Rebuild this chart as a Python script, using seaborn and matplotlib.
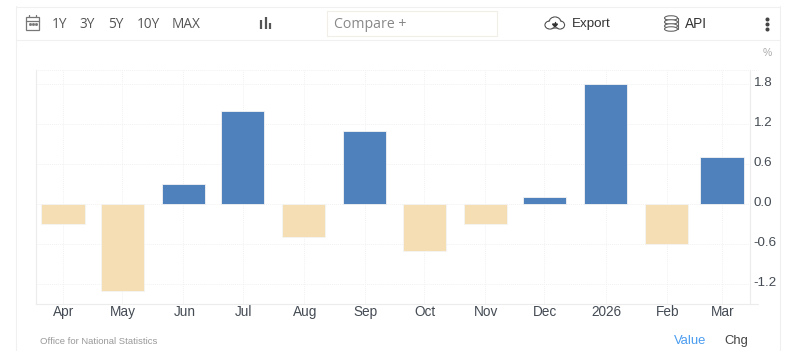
#!/usr/bin/env python3

import matplotlib

matplotlib.use("Agg")
import matplotlib.pyplot as plt
import matplotlib.transforms as mtrans
from matplotlib.patches import Ellipse, Polygon, Rectangle
import pandas
import seaborn as sns

months = ["2025-04-01", "2025-05-01", "2025-06-01", "2025-07-01", "2025-08-01", "2025-09-01",
          "2025-10-01", "2025-11-01", "2025-12-01", "2026-01-01", "2026-02-01", "2026-03-01"]
month_labels = ["Apr", "May", "Jun", "Jul", "Aug", "Sep", "Oct", "Nov", "Dec", "2026", "Feb", "Mar"]
values = [-0.3, -1.3, 0.3, 1.4, -0.5, 1.1, -0.7, -0.3, 0.1, 1.8, -0.6, 0.7]
y_ticks = [-1.2, -0.6, 0.0, 0.6, 1.2, 1.8]
y_labels = ["-1.2", "-0.6", "0.0", "0.6", "1.2", "1.8"]
range_buttons = ["1Y", "3Y", "5Y", "10Y", "MAX"]

W, H = 790, 351
BLUE = "#4f81bd"
TAN = "#f5deb3"
GRID = "#f2f2f2"
EDGE = "#ececec"
TEXT = "#444b54"
ARIAL = "Liberation Sans"
OPEN = "Open Sans"


def make_frame():
    dates = pandas.to_datetime(months)
    df = pandas.DataFrame({"value": values, "label": month_labels})
    df["day"] = (dates - dates[0]).days
    df["sign"] = ["up" if v >= 0 else "down" for v in values]
    return df


def plot_bars(fig, df):
    ax = fig.add_axes([36 / W, (H - 304) / H, (750 - 36) / W, (304 - 70) / H])
    sns.barplot(
        data=df,
        x="day",
        y="value",
        hue="sign",
        palette={"up": BLUE, "down": TAN},
        native_scale=True,
        dodge=False,
        width=0.78,
        saturation=1,
        legend=False,
        ax=ax,
        zorder=3,
        linewidth=0.6,
        edgecolor="#f4f4f4",
    )
    ax.set_xlim(-13.7, 348.2)
    ax.set_ylim(-1.5, 2.01)
    ax.set_xlabel("")
    ax.set_ylabel("")

    ax.set_xticks(df["day"].tolist())
    ax.set_xticklabels(df["label"].tolist(), fontsize=9.8, color=TEXT, family=ARIAL)
    ax.set_yticks(y_ticks)
    ax.set_yticklabels(y_labels, fontsize=9.6, color=TEXT, family=ARIAL)
    ax.yaxis.tick_right()
    ax.tick_params(axis="both", length=0)
    ax.tick_params(axis="x", pad=0.5)
    ax.tick_params(axis="y", pad=2.5)

    # labels sit a bit off their gridlines in the original
    shift = mtrans.ScaledTranslation(0, 2 / 100, fig.dpi_scale_trans)
    for label in ax.get_yticklabels():
        label.set_transform(label.get_transform() + shift)
    shift = mtrans.ScaledTranslation(1 / 100, 0, fig.dpi_scale_trans)
    for label in ax.get_xticklabels():
        label.set_transform(label.get_transform() + shift)

    ax.grid(True, color=GRID, linewidth=0.7, linestyle=(0, (1, 1)), zorder=0)
    ax.set_axisbelow(True)
    ax.spines["top"].set_visible(False)
    for side in ["left", "right", "bottom"]:
        ax.spines[side].set_color(EDGE)
        ax.spines[side].set_linewidth(0.8)
    return ax


def draw_toolbar(fig):
    ov = fig.add_axes([0, 0, 1, 1])
    ov.set_xlim(0, W)
    ov.set_ylim(H, 0)
    ov.axis("off")
    ov.patch.set_alpha(0)

    # card and toolbar borders
    ov.plot([15.5, 15.5], [6, 351], color="#f0f0f0", lw=0.8)
    ov.plot([15.5, 779.5], [6.5, 6.5], color="#f0f0f0", lw=0.8)
    ov.plot([779.5, 779.5], [6, 351], color="#f0f0f0", lw=0.8)
    ov.plot([15.5, 779.5], [39.5, 39.5], color="#f0f0f0", lw=0.8)
    ov.plot([36, 758], [70, 70], color=GRID, lw=0.7, ls=(0, (1, 1)))
    ov.plot([750, 758], [304, 304], color=EDGE, lw=0.8)

    # calendar icon
    ov.add_patch(Rectangle((26, 17), 13, 13, fill=False, ec="#777", lw=0.9))
    ov.plot([26, 39], [20.5, 20.5], color="#777", lw=0.9)
    ov.plot([29, 29], [15, 17], color="#777", lw=0.9)
    ov.plot([36, 36], [15, 17], color="#777", lw=0.9)
    ov.plot([29.5, 32.5, 35.5], [24, 24, 24], ls="", marker="s", ms=1, color="#777")

    for name, x in zip(range_buttons, [59.5, 87.5, 116, 148, 186]):
        ov.text(x, 24.5, name, ha="center", va="center", fontsize=9.8, color="#555", family=OPEN)

    # bar chart icon
    for x, y0 in zip([261, 265.5, 270], [20, 17, 23]):
        ov.plot([x, x], [y0, 29], color="#555", lw=1.6, solid_capstyle="butt")

    ov.add_patch(Rectangle((326.5, 10.5), 170, 25, fill=False, ec="#f0eee6", lw=0.8))
    ov.text(334.5, 24.5, "Compare +", ha="left", va="center", fontsize=10.2, color="#888", family=OPEN)

    # export cloud: outline ellipses first, white insides on top
    lobes = [(550, 25, 10, 8), (555, 22.5, 12, 11), (560, 25, 9, 8)]
    for x, y, w, h in lobes:
        ov.add_patch(Ellipse((x, y), w, h, fc="none", ec="#555", lw=0.9))
    for x, y, w, h in lobes:
        ov.add_patch(Ellipse((x, y), w - 1.4, h - 1.4, fc="white", ec="none"))
    ov.add_patch(Polygon([[552.5, 24], [557.5, 24], [555, 27]], color="#333"))
    ov.plot([555, 555], [21.5, 24.5], color="#333", lw=1)
    ov.text(572, 23.5, "Export", ha="left", va="center", fontsize=9.6, color="#333", family=ARIAL)

    # api database
    ov.add_patch(Rectangle((664.5, 18), 13, 11, fill=False, ec="#666", lw=0.8))
    for y in [18, 22, 26, 29]:
        ov.add_patch(Ellipse((671, y), 13, 4.5, fc="white", ec="#666", lw=0.8))
    ov.text(685, 23.5, "API", ha="left", va="center", fontsize=9.8, color="#333", family=ARIAL)

    ov.plot([767, 767, 767], [18.5, 23.5, 28.5], ls="", marker="o", ms=1.9, color="#444")

    ov.text(767, 53, "%", ha="center", va="center", fontsize=7.5, color="#aaa", family=ARIAL)
    ov.text(40, 341, "Office for National Statistics", ha="left", va="center",
            fontsize=6.8, color="#999", family=ARIAL)
    ov.text(690, 341, "Value", ha="center", va="center", fontsize=9.4, color="#4a9cf0", family=ARIAL)
    ov.text(736, 341, "Chg", ha="center", va="center", fontsize=9.4, color="#444", family=ARIAL)


def main():
    sns.set_theme(style="white")
    fig = plt.figure(figsize=(W / 100, H / 100), dpi=100, facecolor="white")
    df = make_frame()
    plot_bars(fig, df)
    draw_toolbar(fig)
    fig.savefig("out.png", dpi=100, facecolor="white")


if __name__ == "__main__":
    main()
